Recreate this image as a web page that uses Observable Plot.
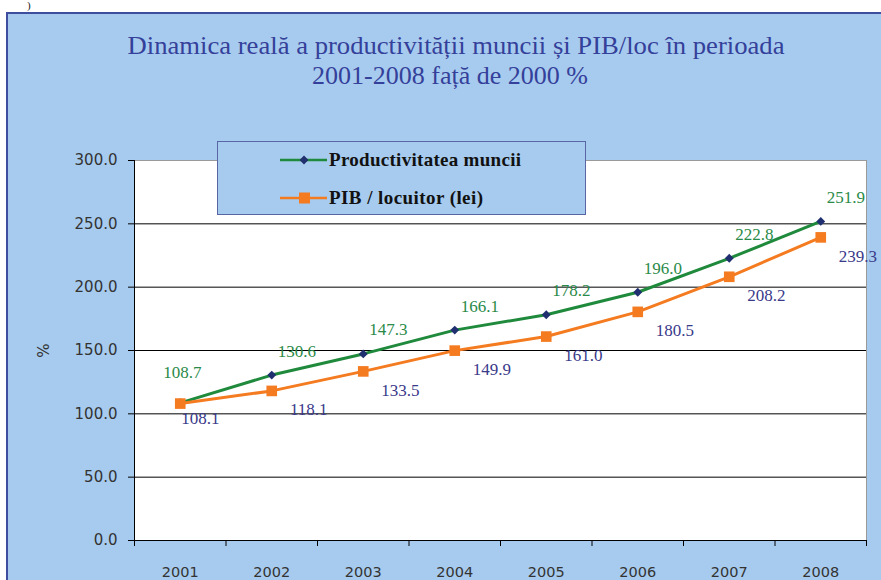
<!DOCTYPE html>
<html>
<head>
<meta charset="utf-8">
<script src="https://cdn.jsdelivr.net/npm/d3@7"></script>
<script src="https://cdn.jsdelivr.net/npm/@observablehq/plot@0.6"></script>
<style>
  html, body { margin: 0; padding: 0; background: #fff; }
  #wrap { position: relative; width: 881px; height: 580px; overflow: hidden; background: #fff; }
  #panel { position: absolute; left: 6px; top: 12px; width: 900px; height: 600px; background: #a7cbee;
           border-left: 2.5px solid #3f4d9e; border-top: 2.5px solid #3f4d9e; box-sizing: border-box; }
  #corner { position: absolute; left: 27px; top: 0px; font: 11px "Liberation Serif", serif; line-height: 11px; color: #222; }
  #title { position: absolute; left: 0; top: 0; }
  #chart { position: absolute; left: 0; top: 0; }
  #legend { position: absolute; left: 217px; top: 141px; width: 369px; height: 74px; background: #a7cbee;
            border: 1px solid #5866a6; box-sizing: border-box; }
</style>
</head>
<body>
<div id="wrap">
  <div id="panel"></div>
  <div id="corner">)</div>
  <svg id="title" width="881" height="100"></svg>
  <div id="chart"></div>
  <div id="legend"></div>
</div>
<script>
// ---- data ----
const years = [2001, 2002, 2003, 2004, 2005, 2006, 2007, 2008];
const productivitate = [108.7, 130.6, 147.3, 166.1, 178.2, 196.0, 222.8, 251.9];
const pibLocuitor = [108.1, 118.1, 133.5, 149.9, 161.0, 180.5, 208.2, 239.3];
const seriesNames = ["Productivitatea muncii", "PIB / locuitor (lei)"];
const yTicks = [0, 50, 100, 150, 200, 250, 300];
const titleLines = ["Dinamica reală a  productivității muncii și PIB/loc în perioada", "2001-2008 față de 2000 %"];
const yLabel = "%";

const green = "#1f8a3c", navy = "#1f2f6f", orange = "#f47b20";
const greenText = "#2a8a48", blueText = "#3a3a8a";

const prod = years.map((year, i) => ({year, value: productivitate[i], i}));
const pib = years.map((year, i) => ({year, value: pibLocuitor[i], i}));
const boundaries = [years[0] - 0.5, ...years.map(y => y + 0.5)];
const fmt = d3.format(".1f");
const serifFamily = "'Liberation Serif', 'Times New Roman', serif";

// ---- title ----
const tsvg = d3.select("#title");
const tl = [{x: 456, y: 54, len: 657}, {x: 450, y: 84, len: 276}];
titleLines.forEach((t, k) => {
  tsvg.append("text").attr("x", tl[k].x).attr("y", tl[k].y)
    .attr("text-anchor", "middle")
    .attr("textLength", tl[k].len).attr("lengthAdjust", "spacingAndGlyphs")
    .style("font-family", serifFamily).style("font-size", "26px")
    .attr("fill", "#34409a").text(t);
});

// ---- chart ----
const labelFont = {fontFamily: serifFamily, fontSize: 17};
const chart = Plot.plot({
  width: 881, height: 580,
  marginLeft: 134, marginRight: 15, marginTop: 160, marginBottom: 40,
  x: {type: "linear", domain: [boundaries[0], boundaries[boundaries.length - 1]]},
  y: {domain: [0, 300]},
  style: {background: "transparent", fontFamily: "DejaVu Sans, sans-serif", fontSize: "15px", color: "#333", overflow: "visible"},
  marks: [
    Plot.frame({fill: "white", stroke: "#9a9a9a"}),
    Plot.gridY(yTicks.filter(d => d > 0 && d < 300), {stroke: "#000", strokeOpacity: 1}),
    Plot.ruleY([0], {stroke: "#000"}),
    Plot.ruleX([boundaries[0]], {stroke: "#000"}),
    Plot.axisY({ticks: yTicks, tickFormat: fmt, tickSize: 6, tickPadding: 11, stroke: "#000",
                label: yLabel, labelAnchor: "center", labelOffset: 96, labelArrow: "none"}),
    Plot.axisX({ticks: boundaries, tickSize: 6, tickFormat: () => "", stroke: "#000", label: null}),
    Plot.axisX({ticks: years, tickSize: 0, tickPadding: 26, tickFormat: d => String(d), fontSize: 14.5, label: null}),
    Plot.line(prod, {x: "year", y: "value", stroke: green, strokeWidth: 3}),
    Plot.dot(prod, {x: "year", y: "value", symbol: "diamond2", r: 4, fill: navy, stroke: "none"}),
    Plot.line(pib, {x: "year", y: "value", stroke: orange, strokeWidth: 3}),
    Plot.dot(pib, {x: "year", y: "value", symbol: "square", r: 6, fill: orange, stroke: "none"}),
    Plot.text(prod.filter(d => d.i === 0), {x: "year", y: "value", text: d => fmt(d.value), dx: 2, dy: -30, fill: greenText, ...labelFont}),
    Plot.text(prod.filter(d => d.i > 0), {x: "year", y: "value", text: d => fmt(d.value), dx: 25, dy: -24, fill: greenText, ...labelFont}),
    Plot.text(pib.filter(d => d.i === 0), {x: "year", y: "value", text: d => fmt(d.value), dx: 20, dy: 15, fill: blueText, ...labelFont}),
    Plot.text(pib.filter(d => d.i > 0), {x: "year", y: "value", text: d => fmt(d.value), dx: 37, dy: 19, fill: blueText, ...labelFont})
  ]
});
document.getElementById("chart").appendChild(chart);

// ---- legend ----
const lsvg = d3.select("#legend").append("svg").attr("width", 367).attr("height", 72);
const rows = [
  {name: seriesNames[0], color: green, marker: "diamond", y: 18, len: 192},
  {name: seriesNames[1], color: orange, marker: "square", y: 56, len: 154}
];
rows.forEach(r => {
  lsvg.append("line").attr("x1", 62).attr("x2", 109).attr("y1", r.y).attr("y2", r.y)
    .attr("stroke", r.color).attr("stroke-width", 2.5);
  if (r.marker === "diamond") {
    lsvg.append("path").attr("d", d3.symbol(d3.symbolDiamond2, 50)()).attr("transform", `translate(86,${r.y})`).attr("fill", navy);
  } else {
    lsvg.append("rect").attr("x", 81).attr("y", r.y - 5.5).attr("width", 11).attr("height", 11).attr("fill", orange);
  }
  lsvg.append("text").attr("x", 111).attr("y", r.y + 6)
    .attr("textLength", r.len).attr("lengthAdjust", "spacing")
    .style("font-family", serifFamily).style("font-weight", "bold").style("font-size", "19px")
    .attr("fill", "#111").text(r.name);
});
</script>
</body>
</html>
